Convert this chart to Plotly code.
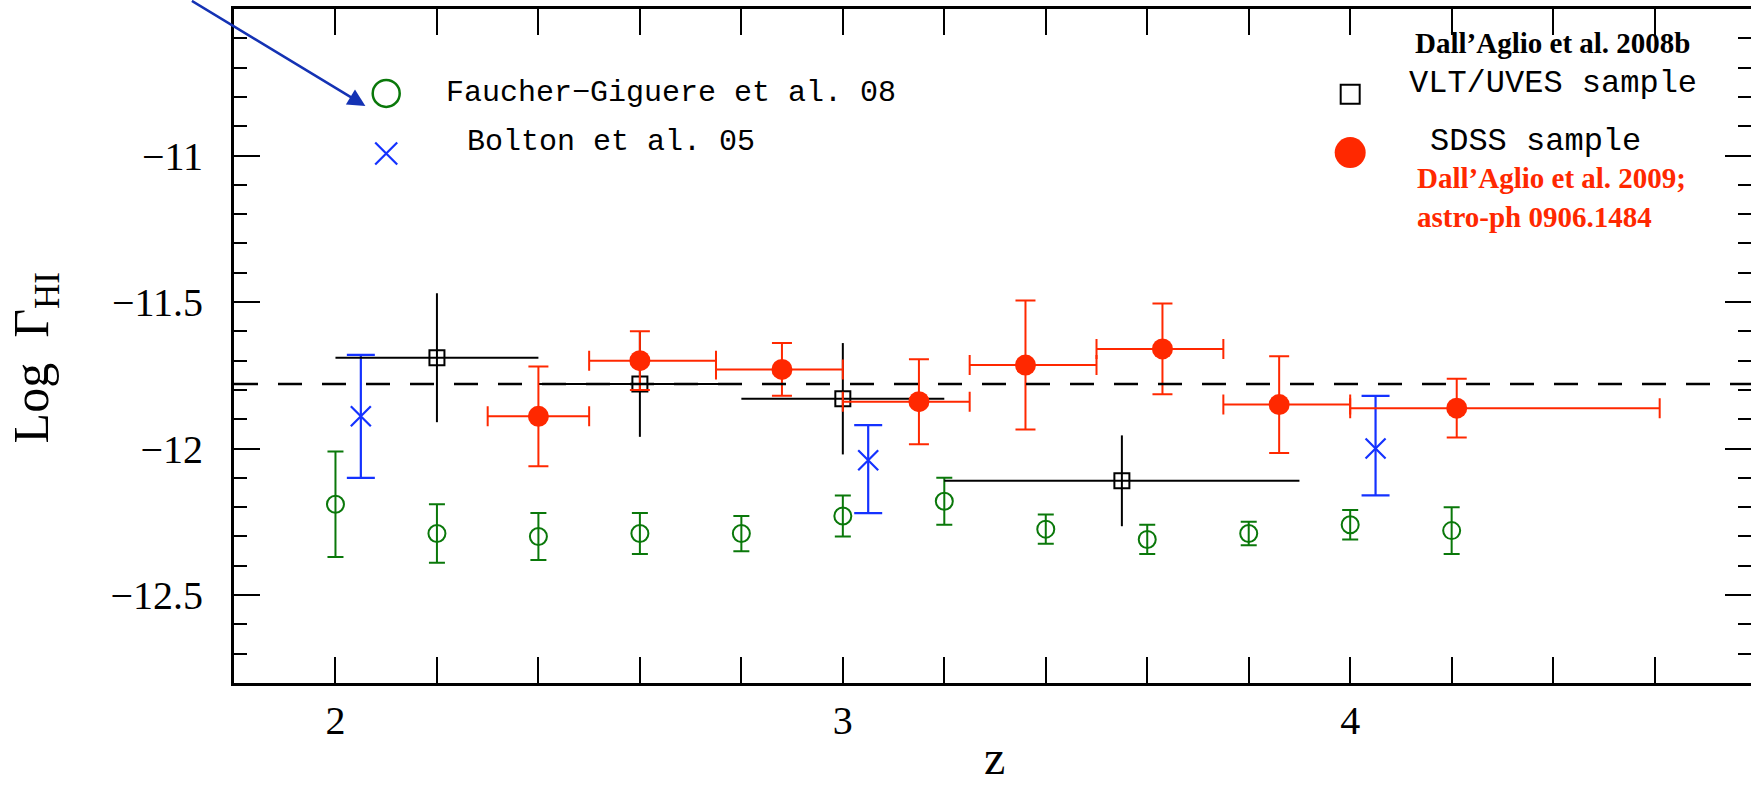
import plotly.graph_objects as go

# ---------------- data ----------------
# Faucher-Giguere et al. 08 (green open circles)
fg_z = [2.0, 2.2, 2.4, 2.6, 2.8, 3.0, 3.2, 3.4, 3.6, 3.8, 4.0, 4.2]
fg_logG = [-12.19, -12.29, -12.30, -12.29, -12.29, -12.23, -12.18, -12.275, -12.31, -12.29, -12.26, -12.28]
fg_err = [0.18, 0.10, 0.08, 0.07, 0.06, 0.07, 0.08, 0.05, 0.05, 0.04, 0.05, 0.08]

# Bolton et al. 05 (blue crosses)
bo_z = [2.05, 3.05, 4.05]
bo_logG = [-11.89, -12.04, -12.00]
bo_err_up = [0.21, 0.12, 0.18]
bo_err_dn = [0.21, 0.18, 0.16]

# Dall'Aglio et al. 2008b VLT/UVES sample (black open squares)
uv_z = [2.2, 2.6, 3.0, 3.55]
uv_logG = [-11.69, -11.78, -11.83, -12.11]
uv_zerr = [0.2, 0.2, 0.2, 0.35]
uv_err = [0.22, 0.18, 0.19, 0.155]

# Dall'Aglio et al. 2009 SDSS sample (red filled circles)
sd_z = [2.4, 2.6, 2.88, 3.15, 3.36, 3.63, 3.86, 4.21]
sd_logG = [-11.89, -11.70, -11.73, -11.84, -11.715, -11.66, -11.85, -11.862]
sd_zerr_lo = [0.10, 0.10, 0.13, 0.15, 0.11, 0.13, 0.11, 0.21]
sd_zerr_hi = [0.10, 0.15, 0.12, 0.10, 0.14, 0.12, 0.14, 0.40]
sd_err = [0.17, 0.10, 0.09, 0.145, 0.22, 0.155, 0.165, 0.10]

ref_level = -11.78

x_tickvals = [2, 3, 4]
x_ticktext = ["2", "3", "4"]
y_tickvals = [-11, -11.5, -12, -12.5]
y_ticktext = ["\u221211", "\u221211.5", "\u221212", "\u221212.5"]

# ---------------- styles ----------------
GREEN = "rgb(10,120,10)"
BLUE = "rgb(20,50,255)"
RED = "rgb(255,40,0)"
BLACK = "black"
ARROW = "rgb(20,50,180)"
X_RANGE = [1.8, 4.79]
Y_RANGE = [-12.8, -10.5]

fig = go.Figure()

fig.add_trace(go.Scatter(
    x=fg_z, y=fg_logG, mode="markers", showlegend=False,
    marker=dict(symbol="circle-open", size=17, color=GREEN, line=dict(width=2, color=GREEN)),
    error_y=dict(type="data", array=fg_err, color=GREEN, thickness=2, width=8),
))
fig.add_trace(go.Scatter(
    x=bo_z, y=bo_logG, mode="markers", showlegend=False,
    marker=dict(symbol="x-thin-open", size=20, color=BLUE, line=dict(width=2.2, color=BLUE)),
    error_y=dict(type="data", array=bo_err_up, arrayminus=bo_err_dn, symmetric=False,
                 color=BLUE, thickness=2.2, width=14),
))
fig.add_trace(go.Scatter(
    x=uv_z, y=uv_logG, mode="markers", showlegend=False,
    marker=dict(symbol="square-open", size=15, color=BLACK, line=dict(width=2, color=BLACK)),
    error_y=dict(type="data", array=uv_err, color=BLACK, thickness=2, width=0),
    error_x=dict(type="data", array=uv_zerr, color=BLACK, thickness=2, width=0),
))
fig.add_trace(go.Scatter(
    x=sd_z, y=sd_logG, mode="markers", showlegend=False,
    marker=dict(symbol="circle", size=21, color=RED),
    error_y=dict(type="data", array=sd_err, color=RED, thickness=2, width=10),
    error_x=dict(type="data", array=sd_zerr_hi, arrayminus=sd_zerr_lo, symmetric=False,
                 color=RED, thickness=2, width=10),
))

# legend keys
legend_keys = [
    (2.10, -10.788, "circle-open", 27, GREEN, 2.5),
    (2.10, -10.993, "x-thin-open", 22, BLUE, 2.2),
    (4.00, -10.791, "square-open", 19, BLACK, 2),
    (4.00, -10.990, "circle", 31, RED, 0),
]
for kx, ky, sym, sz, col, lw in legend_keys:
    fig.add_trace(go.Scatter(
        x=[kx], y=[ky], mode="markers", showlegend=False, hoverinfo="skip",
        marker=dict(symbol=sym, size=sz, color=col, line=dict(width=lw, color=col)),
    ))

# dummy trace to realise the right-hand tick axis
fig.add_trace(go.Scatter(x=[None], y=[None], yaxis="y2", showlegend=False, hoverinfo="skip"))

fig.add_shape(type="line", xref="paper", yref="y", x0=0, x1=1, y0=ref_level, y1=ref_level,
              line=dict(color=BLACK, width=2.5, dash="24px,20px"))

MONO = "Liberation Mono"
SERIF = "Liberation Serif"
ann = [
    dict(x=2.214, y=-10.787, text="Faucher\u2212Giguere et al. 08", xanchor="left",
         font=dict(family=MONO, size=30, color=BLACK)),
    dict(x=2.255, y=-10.954, text="Bolton et al. 05", xanchor="left",
         font=dict(family=MONO, size=30, color=BLACK)),
    dict(x=4.40, y=-10.616, text="<b>Dall\u2019Aglio et al. 2008b</b>", xanchor="center",
         font=dict(family=SERIF, size=29, color=BLACK)),
    dict(x=4.112, y=-10.753, text="VLT/UVES sample", xanchor="left",
         font=dict(family=MONO, size=32, color=BLACK)),
    dict(x=4.153, y=-10.953, text="SDSS sample", xanchor="left",
         font=dict(family=MONO, size=32, color=BLACK)),
    dict(x=4.128, y=-11.077, text="<b>Dall\u2019Aglio et al. 2009;</b>", xanchor="left",
         font=dict(family=SERIF, size=29, color=RED)),
    dict(x=4.128, y=-11.21, text="<b>astro-ph 0906.1484</b>", xanchor="left",
         font=dict(family=SERIF, size=29, color=RED)),
]
for a in ann:
    fig.add_annotation(xref="x", yref="y", yanchor="middle", showarrow=False, **a)

# arrow
fig.add_annotation(x=2.059, y=-10.831, xref="x", yref="y", ax=-175, ay=-116,
                   axref="pixel", ayref="pixel", showarrow=True, text="",
                   arrowhead=2, arrowsize=1.4, arrowwidth=2.5, arrowcolor=ARROW)

# axis titles
fig.add_annotation(xref="paper", yref="paper", x=-0.131, y=0.482, textangle=-90,
                   text="Log  \u0393<sub>HI</sub>", showarrow=False,
                   xanchor="center", yanchor="middle",
                   font=dict(family=SERIF, size=50, color=BLACK))
fig.add_annotation(xref="paper", yref="paper", x=0.501, y=-0.153, text="z", showarrow=False,
                   xanchor="center", yanchor="bottom",
                   font=dict(family=SERIF, size=48, color=BLACK))

tickfont = dict(family=SERIF, size=40, color=BLACK)
fig.update_layout(
    width=1751, height=787,
    margin=dict(l=234, r=0, t=9, b=104, pad=0),
    paper_bgcolor="white", plot_bgcolor="white",
    xaxis=dict(range=X_RANGE, showline=True, linewidth=3, linecolor=BLACK, mirror="allticks",
               ticks="inside", ticklen=26, tickwidth=2, tickcolor=BLACK,
               tickmode="array", tickvals=x_tickvals, ticktext=x_ticktext, tickfont=tickfont,
               ticklabelstandoff=0,
               minor=dict(tickmode="linear", tick0=0, dtick=0.2, ticks="inside", ticklen=13,
                          tickwidth=2, tickcolor=BLACK, showgrid=False),
               showgrid=False, zeroline=False, fixedrange=True),
    yaxis=dict(range=Y_RANGE, showline=True, linewidth=3, linecolor=BLACK, mirror=False,
               ticks="inside", ticklen=26, tickwidth=2, tickcolor=BLACK,
               tickmode="array", tickvals=y_tickvals, ticktext=y_ticktext, tickfont=tickfont,
               ticklabelstandoff=20,
               minor=dict(tickmode="linear", tick0=0, dtick=0.1, ticks="inside", ticklen=13,
                          tickwidth=2, tickcolor=BLACK, showgrid=False),
               showgrid=False, zeroline=False, fixedrange=True),
    yaxis2=dict(range=Y_RANGE, overlaying="y", side="right", showline=False,
                ticks="inside", ticklen=26, tickwidth=2, tickcolor=BLACK,
                tickmode="array", tickvals=y_tickvals, showticklabels=False,
                minor=dict(tickmode="linear", tick0=0, dtick=0.1, ticks="inside", ticklen=13,
                           tickwidth=2, tickcolor=BLACK, showgrid=False),
                showgrid=False, zeroline=False, fixedrange=True),
    showlegend=False,
)

fig.write_html("out.html")
